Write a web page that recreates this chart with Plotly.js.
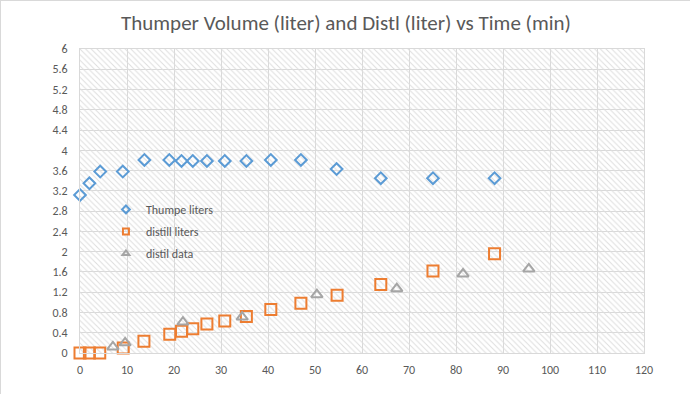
<!DOCTYPE html>
<html>
<head>
<meta charset="utf-8">
<script src="https://cdn.plot.ly/plotly-3.0.1.min.js"></script>
<style>
html,body{margin:0;padding:0;background:#fff;}
#chart{width:690px;height:394px;box-sizing:border-box;border:1px solid #d9d9d9;}
</style>
</head>
<body>
<div id="chart"></div>
<script>
const thumperTime = [0, 2, 4.3, 9.1, 13.7, 19, 21.6, 24, 27, 30.8, 35.4, 40.6, 47, 54.6, 64, 75.1, 88.2];
const thumperLiters = [3.12, 3.35, 3.58, 3.58, 3.81, 3.81, 3.79, 3.79, 3.79, 3.79, 3.79, 3.81, 3.81, 3.63, 3.45, 3.45, 3.45];
const distillTime = [0, 2, 4.2, 9.2, 13.6, 19.1, 21.6, 24, 27, 30.8, 35.4, 40.6, 47, 54.7, 64, 75.1, 88.2];
const distillLiters = [0, 0, 0, 0.1, 0.23, 0.37, 0.43, 0.48, 0.57, 0.63, 0.72, 0.86, 0.98, 1.14, 1.35, 1.62, 1.96];
const dataTime = [7, 9.6, 21.9, 34.5, 50.4, 67.4, 81.5, 95.5];
const dataLiters = [0.12, 0.2, 0.61, 0.71, 1.15, 1.27, 1.56, 1.66];
const seriesNames = ['Thumpe liters', 'distill liters', 'distil data'];
const xRange = [0, 120];
const yRange = [0, 6];
const yTicks = [0,0.4,0.8,1.2,1.6,2,2.4,2.8,3.2,3.6,4,4.4,4.8,5.2,5.6,6];
const yTickText = ['0','0.4','0.8','1.2','1.6','2','2.4','2.8','3.2','3.6','4','4.4','4.8','5.2','5.6','6'];

const font = 'Carlito, Calibri, Lato, "Liberation Sans", sans-serif';
const colors = ['#5B9BD5', '#ED7D31', '#A5A5A5'];
const symbols = ['diamond-open', 'square-open', 'triangle-up-open'];

const hatch = {
  x: [xRange[0], xRange[1], xRange[1], xRange[0], xRange[0]],
  y: [yRange[0], yRange[0], yRange[1], yRange[1], yRange[0]],
  mode: 'lines', fill: 'toself', line: {width: 0, color: 'rgba(0,0,0,0)'},
  fillcolor: 'rgba(0,0,0,0)',
  fillpattern: {shape: '\\', fgcolor: '#dedede', bgcolor: 'rgba(0,0,0,0)', size: 4, solidity: 0.25},
  hoverinfo: 'skip', showlegend: false
};

const mk = (i, size) => ({symbol: symbols[i], size: size, color: colors[i], line: {width: 2, color: colors[i]}});

const traces = [
  hatch,
  {x: thumperTime, y: thumperLiters, name: seriesNames[0], mode: 'markers', type: 'scatter', cliponaxis: false, showlegend: false, marker: mk(0, 9)},
  {x: distillTime, y: distillLiters, name: seriesNames[1], mode: 'markers', type: 'scatter', cliponaxis: false, showlegend: false, marker: mk(1, 11)},
  {x: dataTime, y: dataLiters, name: seriesNames[2], mode: 'markers', type: 'scatter', cliponaxis: false, showlegend: false, marker: mk(2, 10)}
];
// legend entries with smaller symbols, as in the reference
for (let i = 0; i < 3; i++) {
  traces.push({x: [null], y: [null], name: seriesNames[i], mode: 'markers', type: 'scatter', legendgroup: 'g' + i,
    marker: {symbol: symbols[i], size: 6, color: colors[i], line: {width: 2, color: colors[i]}}});
}

const layout = {
  width: 690, height: 394,
  margin: {l: 79, r: 47, t: 48, b: 42},
  paper_bgcolor: '#ffffff', plot_bgcolor: '#ffffff',
  font: {family: font, size: 12, color: '#595959'},
  title: {text: 'Thumper Volume (liter) and Distl (liter) vs Time (min)', font: {family: font, size: 21, color: '#595959'}, x: 0.5, xanchor: 'center', y: 0.945, yanchor: 'middle'},
  xaxis: {range: xRange, dtick: 10, tick0: 0, showgrid: true, gridcolor: '#d9d9d9', gridwidth: 1,
          zeroline: false, showline: true, linecolor: '#d9d9d9', mirror: true, ticks: 'outside', ticklen: 6, tickcolor: 'rgba(0,0,0,0)', tickfont: {size: 12, color: '#595959'}, fixedrange: true},
  yaxis: {range: yRange, tickvals: yTicks, ticktext: yTickText, showgrid: true, gridcolor: '#d9d9d9', gridwidth: 1,
          zeroline: false, showline: true, linecolor: '#d9d9d9', mirror: true, ticks: 'outside', ticklen: 9, tickcolor: 'rgba(0,0,0,0)', tickfont: {size: 12, color: '#595959'}, fixedrange: true},
  showlegend: true,
  legend: {x: 0.046, y: 0.52, xanchor: 'left', yanchor: 'top', bgcolor: 'rgba(0,0,0,0)', font: {size: 12, color: '#595959'}, tracegroupgap: 3, itemwidth: 30}
};

Plotly.newPlot('chart', traces, layout, {displayModeBar: false, staticPlot: true});
</script>
</body>
</html>
